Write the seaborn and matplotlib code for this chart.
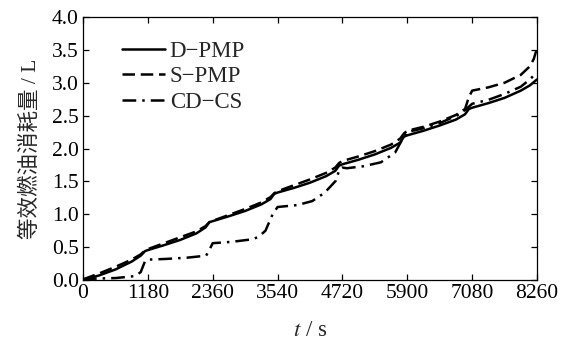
import numpy as np
import pandas as pd
import seaborn as sns
import matplotlib
matplotlib.use("Agg")
import matplotlib.pyplot as plt

# ---------------- data ----------------
t_dpmp = [0, 295, 590, 885, 1050, 1130,
          1180, 1475, 1770, 2065, 2230, 2300,
          2360, 2655, 2950, 3245, 3410, 3480,
          3540, 3835, 4130, 4425, 4590, 4660,
          4720, 5015, 5310, 5605, 5770, 5840,
          5900, 6195, 6490, 6785, 6950, 7020,
          7080, 7375, 7670, 7965, 8130, 8260]
y_dpmp = [0.00, 0.07, 0.16, 0.28, 0.37, 0.44,
          0.455, 0.53, 0.61, 0.71, 0.80, 0.88,
          0.895, 0.97, 1.05, 1.15, 1.23, 1.31,
          1.33, 1.40, 1.48, 1.58, 1.66, 1.74,
          1.76, 1.83, 1.91, 2.01, 2.09, 2.18,
          2.20, 2.27, 2.35, 2.44, 2.52, 2.60,
          2.62, 2.69, 2.77, 2.88, 2.96, 3.05]

t_spmp = [0, 295, 590, 885, 1050, 1130,
          1180, 1475, 1770, 2065, 2230, 2300,
          2360, 2655, 2950, 3245, 3410, 3480,
          3540, 3835, 4130, 4425, 4590, 4660,
          4720, 5015, 5310, 5605, 5770, 5840,
          5900, 6195, 6490, 6785, 6950, 7020, 7080,
          7375, 7670, 7965, 8130, 8200, 8260]
y_spmp = [0.01, 0.10, 0.20, 0.31, 0.39, 0.45,
          0.47, 0.56, 0.65, 0.74, 0.82, 0.88,
          0.90, 0.99, 1.08, 1.18, 1.26, 1.32,
          1.35, 1.44, 1.53, 1.63, 1.71, 1.78,
          1.81, 1.88, 1.96, 2.06, 2.15, 2.23,
          2.27, 2.33, 2.41, 2.51, 2.60, 2.78, 2.88,
          2.93, 3.00, 3.12, 3.25, 3.36, 3.52]

t_cdcs = [0, 200, 600, 950, 1050, 1130, 1180,
          1500, 1900, 2240, 2300, 2360,
          2700, 3090, 3200, 3320, 3450, 3540,
          3900, 4170, 4400, 4600, 4665, 4720, 4800,
          5100, 5420, 5680, 5810, 5900,
          6200, 6500, 6800, 6960, 7080,
          7375, 7670, 7965, 8130, 8260]
y_cdcs = [0.00, 0.02, 0.03, 0.06, 0.12, 0.29, 0.31,
          0.32, 0.34, 0.37, 0.46, 0.56,
          0.58, 0.62, 0.66, 0.75, 1.00, 1.11,
          1.14, 1.20, 1.33, 1.51, 1.68, 1.71, 1.70,
          1.73, 1.79, 1.94, 2.14, 2.25,
          2.31, 2.39, 2.50, 2.59, 2.68,
          2.74, 2.83, 2.94, 3.05, 3.16]

labels = ["D\u2212PMP", "S\u2212PMP", "CD\u2212CS"]
x_ticks = [0, 1180, 2360, 3540, 4720, 5900, 7080, 8260]
y_ticks = [0.0, 0.5, 1.0, 1.5, 2.0, 2.5, 3.0, 3.5, 4.0]

# ---------------- style ----------------
sns.set_theme(style="ticks")
plt.rcParams["font.family"] = ["Liberation Serif", "Noto Sans CJK SC"]
plt.rcParams["mathtext.fontset"] = "stix"

fig = plt.figure(figsize=(5.63, 3.43), dpi=100)
ax = fig.add_axes([83 / 563, 1 - 280 / 343, 454 / 563, 263 / 343])

styles = ["-", (0, (5, 2.3)), (0, (5.5, 2.4, 1.0, 2.4))]
series = [(t_dpmp, y_dpmp), (t_spmp, y_spmp), (t_cdcs, y_cdcs)]
for (tt, yy), lab, ls in zip(series, labels, styles):
    df = pd.DataFrame({"t": tt, "y": yy})
    sns.lineplot(data=df, x="t", y="y", ax=ax, color="black", lw=1.8,
                 linestyle=ls, label=lab, estimator=None, sort=False)

ax.set_xlim(0, 8260)
ax.set_ylim(0, 4.0)
ax.set_xticks(x_ticks)
ax.set_xticklabels([str(v) for v in x_ticks])
ax.set_yticks(y_ticks)
ax.set_yticklabels([f"{v:.1f}" for v in y_ticks])
ax.tick_params(direction="in", length=4.5, width=0.9, top=True, right=True,
               labelsize=15.5, pad=3, colors="black")
for sp in ax.spines.values():
    sp.set_linewidth(0.9)
    sp.set_color("black")

ax.set_xlabel("$t$ / s", fontsize=16.5, labelpad=12)
ax.set_ylabel("等效燃油消耗量 / L", fontsize=15.5, labelpad=8, fontweight="light",
              family=["Liberation Serif", "Noto Sans CJK SC"])

leg = ax.legend(loc="upper left", bbox_to_anchor=(0.085, 0.91), frameon=False,
                fontsize=16.5, handlelength=1.9, handletextpad=0.2,
                labelspacing=0.2, borderpad=0, borderaxespad=0)

fig.savefig("out.png", dpi=100)
